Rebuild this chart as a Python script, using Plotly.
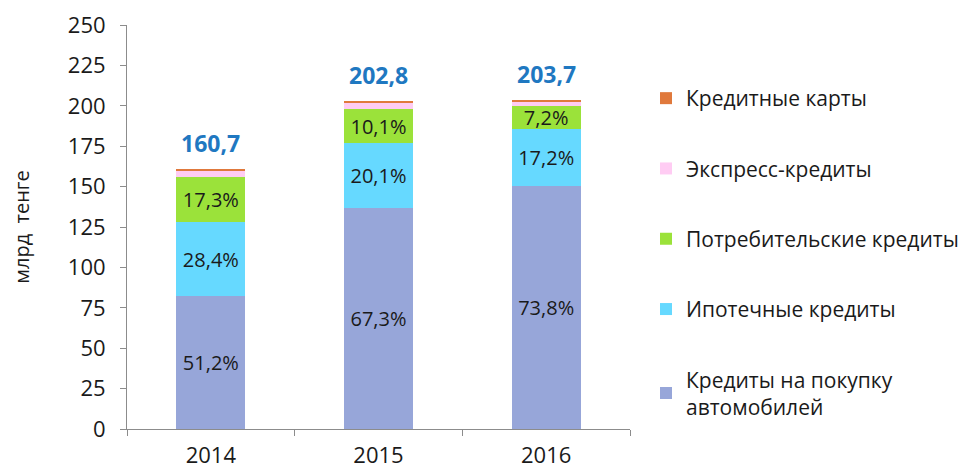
import plotly.graph_objects as go

years = ["2014", "2015", "2016"]
totals = [160.7, 202.8, 203.7]
series_names = [
    "Кредиты на покупку<br>автомобилей",
    "Ипотечные кредиты",
    "Потребительские кредиты",
    "Экспресс-кредиты",
    "Кредитные карты",
]
pct_auto = [51.2, 67.3, 73.8]
pct_mortgage = [28.4, 20.1, 17.2]
pct_consumer = [17.3, 10.1, 7.2]
pct_express = [2.6, 2.1, 1.4]   # estimated (not labelled)
pct_cards = [0.5, 0.4, 0.4]     # estimated (not labelled)
colors = ["#97A6D9", "#66D9FF", "#9BE23A", "#FFCCF3", "#E0793C"]
show_labels = [True, True, True, False, False]

FONT = "Open Sans"
fig = go.Figure()
pcts = [pct_auto, pct_mortgage, pct_consumer, pct_express, pct_cards]
for i, (name, pct, col, lab) in enumerate(zip(series_names, pcts, colors, show_labels)):
    vals = [t * p / 100 for t, p in zip(totals, pct)]
    fig.add_trace(go.Bar(
        x=years, y=vals, name=name,
        marker=dict(color=col, line=dict(width=0)),
        text=[f"{p:.1f}%".replace(".", ",") for p in pct] if lab else None,
        textposition="inside" if lab else "none",
        insidetextanchor="middle",
        constraintext="none",
        textfont=dict(family=FONT, size=20, color="#1a1a1a"),
        legendgroup=f"g{i}",
        legendrank=1000 - i,
        hoverinfo="skip",
    ))

for idx, t in enumerate(totals):
    fig.add_annotation(x=idx, y=t, text=f"<b>{t:.1f}</b>".replace(".", ","),
                       showarrow=False, yanchor="bottom", yshift=8,
                       font=dict(family=FONT, size=23, color="#1F78C1"))

# page has an 8px body margin, so the figure is sized 960x462
fig.update_layout(
    barmode="stack", bargap=0.59,
    width=960, height=462,
    margin=dict(l=119, r=338, t=17, b=41),
    plot_bgcolor="white", paper_bgcolor="white",
    font=dict(family=FONT, size=20, color="#1a1a1a"),
    legend=dict(
        traceorder="grouped", tracegroupgap=40,
        xref="container", yref="paper", x=638/960, y=(429 - 78) / 404,
        xanchor="left", yanchor="top",
        font=dict(family=FONT, size=21, color="#1a1a1a"),
        itemclick=False,
    ),
    xaxis=dict(
        type="category", range=[-0.5, 2.5], automargin=False,
        showline=True, linecolor="#8c8c8c", linewidth=1,
        ticks="outside", tickson="boundaries", ticklen=6, tickcolor="#8c8c8c",
        tickfont=dict(family=FONT, size=22), ticklabelstandoff=7,
    ),
    yaxis=dict(
        range=[0, 250], dtick=25, showgrid=False, zeroline=False, automargin=False,
        showline=True, linecolor="#8c8c8c", linewidth=1,
        ticks="outside", ticklen=6, tickcolor="#8c8c8c",
        tickfont=dict(family=FONT, size=22), ticklabelstandoff=10,
        title=dict(text="млрд  тенге", font=dict(family=FONT, size=20), standoff=35),
    ),
)

fig.write_html("out.html")
